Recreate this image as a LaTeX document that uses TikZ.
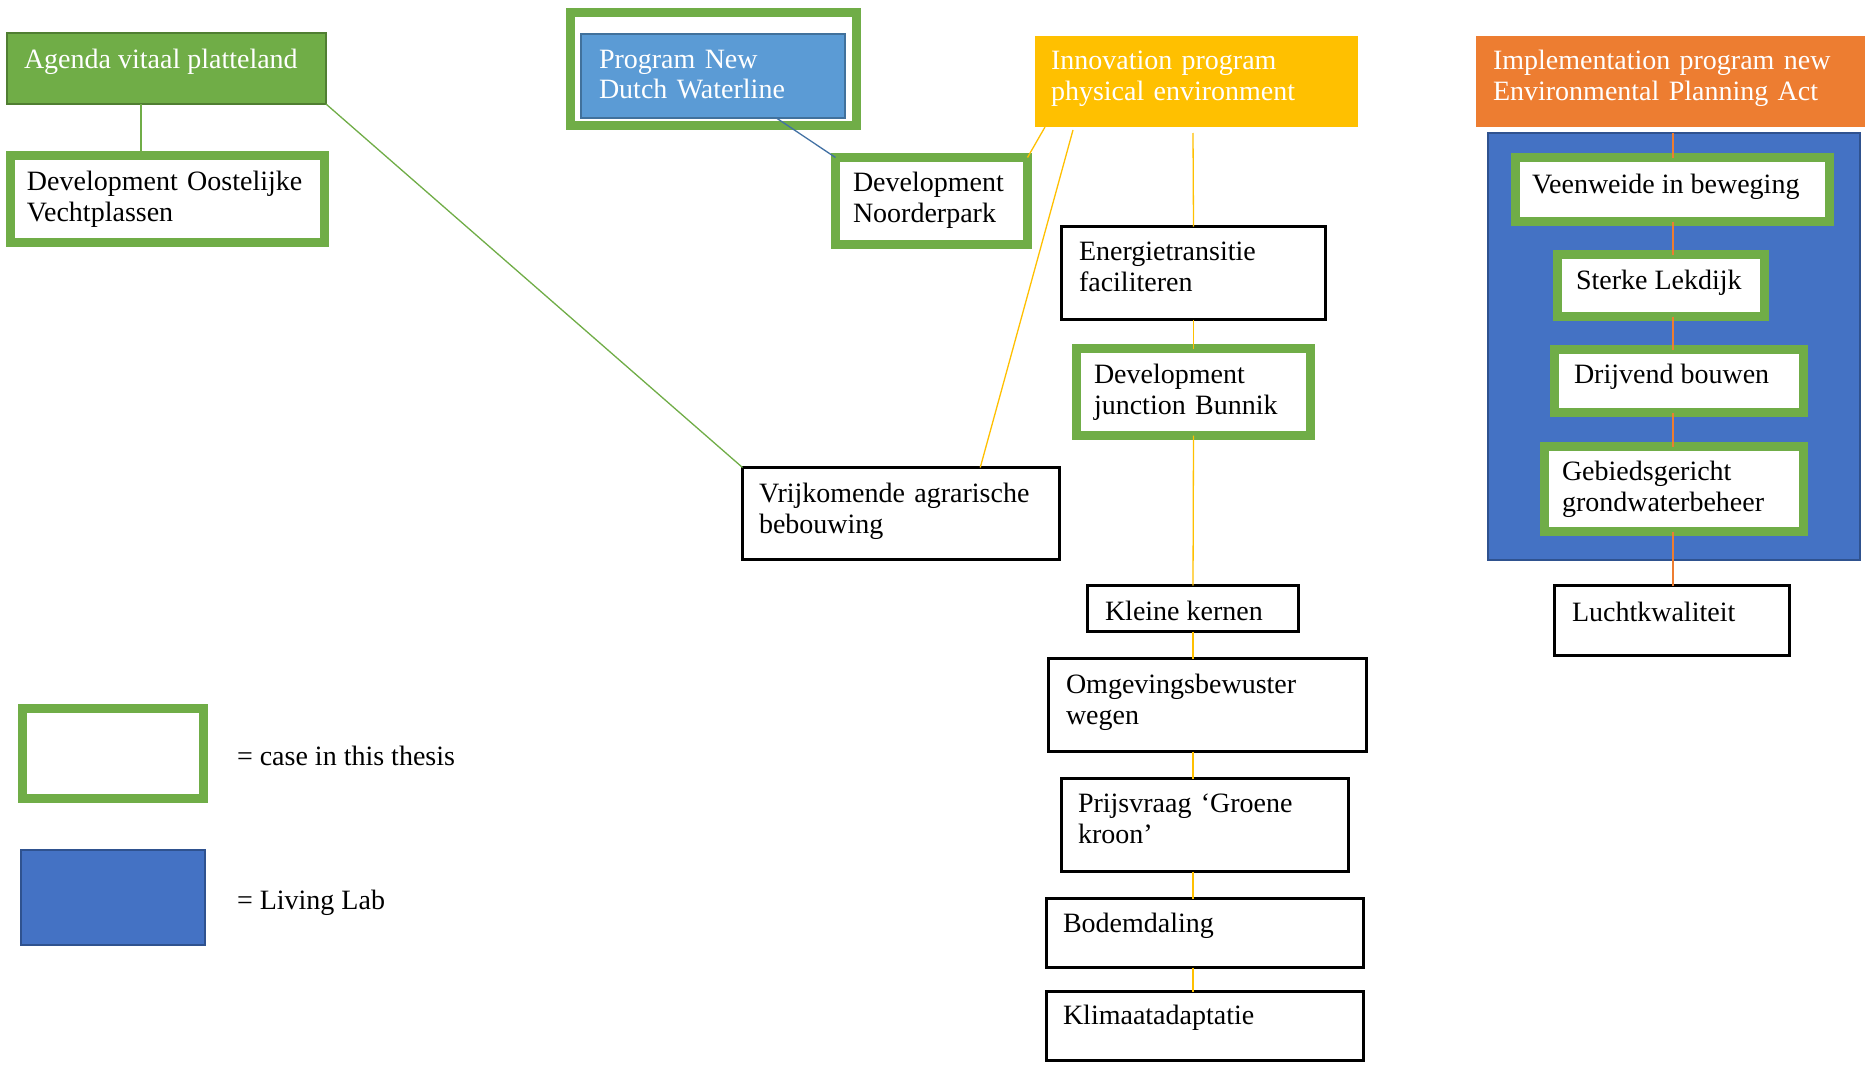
\documentclass[tikz,border=0pt]{standalone}
\usepackage{fontspec}
\setmainfont{Liberation Serif}
\usetikzlibrary{calc}
\definecolor{cgreen}{HTML}{70AD47}
\definecolor{cdkgreen}{HTML}{507E32}
\definecolor{cprog}{HTML}{5B9BD5}
\definecolor{cprogb}{HTML}{41719C}
\definecolor{clab}{HTML}{4472C4}
\definecolor{clabb}{HTML}{2F528F}
\definecolor{cyel}{HTML}{FFC000}
\definecolor{corg}{HTML}{ED7D31}
\tikzset{
  bx/.style={inner sep=0pt, outer sep=0pt},
  plainbox/.style={bx, draw=black, line width=2.6pt, fill=white},
  casebox/.style={bx, draw=cgreen, line width=9pt, fill=white},
  agendabox/.style={bx, draw=cdkgreen, line width=2pt, fill=cgreen},
  progbox/.style={bx, draw=cprogb, line width=2.4pt, fill=cprog},
  labbox/.style={bx, draw=clabb, line width=2.4pt, fill=clab},
  yelbox/.style={bx, fill=cyel},
  orgbox/.style={bx, fill=corg},
  txt/.style={anchor=base west, inner sep=0pt, outer sep=0pt, font=\fontsize{28}{31}\selectfont},
  mtxt/.style={txt, text width=420pt, align=left},
  wtxt/.style={txt, text=white},
  mwtxt/.style={mtxt, text=white},
  gline/.style={draw=cgreen, line width=1.3pt},
  yline/.style={draw=cyel, line width=1.3pt},
  oline/.style={draw=corg, line width=1.3pt},
  bline/.style={draw=cprogb!80!clab, line width=1.3pt},
}
\begin{document}
\begin{tikzpicture}[x=1pt,y=-1pt]
\useasboundingbox (0,0) rectangle (1865,1065);
\fill[white] (0,0) rectangle (1865,1065);

% living lab background
\node[labbox, minimum width=372pt, minimum height=427pt] (lab) at (1674,346.5) {};

% boxes (left)
\node[agendabox, minimum width=319pt, minimum height=71pt] (agenda) at (166.5,68.5) {};
\node[casebox, minimum width=314pt, minimum height=87pt] (oost) at (167.5,199) {};
\node[casebox, minimum width=286pt, minimum height=113pt] (progout) at (713.5,69) {};
\node[progbox, minimum width=264pt, minimum height=84pt] (progin) at (713,76) {};
\node[casebox, minimum width=192pt, minimum height=87pt] (noord) at (931.5,201) {};
\node[plainbox, minimum width=317pt, minimum height=92pt] (vrij) at (901,513.5) {};

% middle column
\node[yelbox, minimum width=323pt, minimum height=91pt] (innov) at (1196.5,81.5) {};
\node[plainbox, minimum width=264pt, minimum height=93pt] (energie) at (1193.5,273) {};
\node[casebox, minimum width=234pt, minimum height=87pt] (bunnik) at (1193.5,392) {};
\node[plainbox, minimum width=211pt, minimum height=46pt] (kleine) at (1193,608.5) {};
\node[plainbox, minimum width=318pt, minimum height=93pt] (omg) at (1207.5,705) {};
\node[plainbox, minimum width=287pt, minimum height=93pt] (prijs) at (1205,825) {};
\node[plainbox, minimum width=317pt, minimum height=69pt] (bodem) at (1205,933) {};
\node[plainbox, minimum width=317pt, minimum height=69pt] (klimaat) at (1205,1026) {};

% right column
\node[orgbox, minimum width=389pt, minimum height=91pt] (impl) at (1670.5,81.5) {};

% connectors of the middle chain
\coordinate (ytop) at (1193,133);
\coordinate (otop) at (1673,133);
\path[yline] (ytop) -- (energie.north);
\path[yline] (energie.south) -- (bunnik.north);
\path[yline] (bunnik.south) -- (kleine.north);
\path[yline] (kleine.south) -- (kleine.south |- omg.north);
\path[yline] (kleine.south |- omg.south) -- (kleine.south |- prijs.north);
\path[yline] (kleine.south |- prijs.south) -- (kleine.south |- bodem.north);
\path[yline] (kleine.south |- bodem.south) -- (kleine.south |- klimaat.north);

\node[casebox, minimum width=314pt, minimum height=64pt] (veen) at (1672.5,189.5) {};
\node[casebox, minimum width=207pt, minimum height=62pt] (sterke) at (1661,285.5) {};
\node[casebox, minimum width=249pt, minimum height=63pt] (drijf) at (1679,381) {};
\node[casebox, minimum width=259pt, minimum height=85pt] (gebied) at (1674,489) {};
\node[plainbox, minimum width=235pt, minimum height=70pt] (lucht) at (1672,620.5) {};

\path[oline] (otop) -- (otop |- veen.north);
\path[oline] (otop |- veen.south) -- (otop |- sterke.north);
\path[oline] (otop |- sterke.south) -- (otop |- drijf.north);
\path[oline] (otop |- drijf.south) -- (otop |- gebied.north);
\path[oline] (otop |- gebied.south) -- (otop |- lucht.north);

\coordinate (agfoot) at ($(agenda.south west)!0.42!(agenda.south east)$);
\path[gline] (agfoot) -- (agfoot |- oost.north);
\path[gline] (agenda.south east) -- (vrij.north west);
\path[bline] ($(progin.south west)!0.74!(progin.south east)$) -- (noord.north west);
\path[yline] ($(innov.south west)+(10,0)$) -- (noord.north east);
\path[yline] ($(innov.south west)+(38,3)$) -- ($(vrij.north west)!0.75!(vrij.north east)$);

% texts
\node[wtxt] (t-agenda) at (24,69) {Agenda vitaal platteland};
\node[mtxt] (t-oost) at (27,190) {Development Oostelijke\\Vechtplassen};
\node[mwtxt] (t-prog) at (599,68) {Program New\\Dutch Waterline};
\node[mtxt] (t-noord) at (853,191) {Development\\Noorderpark};
\node[mwtxt] (t-innov) at (1051,70) {Innovation program\\physical environment};
\node[mwtxt] (t-impl) at (1493,70) {Implementation program new\\Environmental Planning Act};
\node[txt] (t-veen) at (1532,193) {Veenweide in beweging};
\node[txt] (t-sterke) at (1576,289) {Sterke Lekdijk};
\node[txt] (t-drijf) at (1574,383) {Drijvend bouwen};
\node[mtxt] (t-gebied) at (1562,480) {Gebiedsgericht\\grondwaterbeheer};
\node[txt] (t-lucht) at (1572,621) {Luchtkwaliteit};
\node[mtxt] (t-energie) at (1079,260) {Energietransitie\\faciliteren};
\node[mtxt] (t-bunnik) at (1094,383) {Development\\junction Bunnik};
\node[mtxt] (t-vrij) at (759,502) {Vrijkomende agrarische\\bebouwing};
\node[txt] (t-kleine) at (1105,620) {Kleine kernen};
\node[mtxt] (t-omg) at (1066,693) {Omgevingsbewuster\\wegen};
\node[mtxt] (t-prijs) at (1078,812) {Prijsvraag ‘Groene\\kroon’};
\node[txt] (t-bodem) at (1063,932) {Bodemdaling};
\node[txt] (t-klimaat) at (1063,1024) {Klimaatadaptatie};

% legend
\node[casebox, minimum width=181pt, minimum height=90pt] (legcase) at (113,753.5) {};
\node[labbox, minimum width=184pt, minimum height=95pt] (leglab) at (113,897.5) {};
\node[txt] (t-legcase) at (237,765) {= case in this thesis};
\node[txt] (t-leglab) at (237,909) {= Living Lab};
\end{tikzpicture}
\end{document}
